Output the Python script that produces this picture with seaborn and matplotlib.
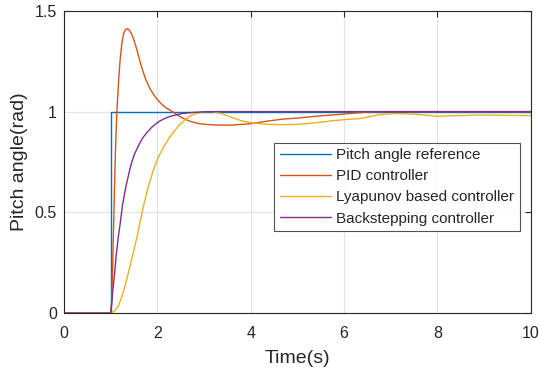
import matplotlib
matplotlib.use("Agg")
import matplotlib.pyplot as plt
import seaborn as sns
import pandas as pd

# ---- data ----
ref_t = [0, 1, 1, 10]
ref_y = [0, 0, 1, 1]

pid_t = [0, 1.0, 1.02, 1.04, 1.06, 1.08, 1.10, 1.12, 1.14, 1.17, 1.20, 1.24, 1.28, 1.32, 1.36,
         1.40, 1.45, 1.50, 1.57, 1.65, 1.75, 1.85, 1.92, 2.0, 2.1, 2.18, 2.3, 2.4, 2.54, 2.7, 2.9,
         3.1, 3.3, 3.6, 4.0, 4.33, 4.7, 5.0, 5.4, 5.8, 6.1, 6.35, 6.6, 7.0, 8.0, 10.0]
pid_y = [0, 0, 0.05, 0.2, 0.4, 0.6, 0.78, 0.92, 1.03, 1.15, 1.25, 1.34, 1.39, 1.408, 1.412,
         1.405, 1.385, 1.355, 1.30, 1.23, 1.16, 1.11, 1.085, 1.06, 1.035, 1.02, 1.003, 0.988, 0.968, 0.952, 0.94,
         0.935, 0.933, 0.933, 0.94, 0.952, 0.963, 0.968, 0.977, 0.984, 0.99, 0.995, 0.999, 1.0, 1.0, 1.0]

lya_t = [0, 1.0, 1.05, 1.10, 1.167, 1.23, 1.29, 1.384, 1.47, 1.558, 1.63, 1.71, 1.797, 1.906, 1.97,
         2.05, 2.15, 2.254, 2.37, 2.486, 2.6, 2.70, 2.85, 3.0, 3.15, 3.3, 3.45, 3.61, 3.8, 4.0,
         4.33, 4.68, 5.04, 5.4, 5.76, 6.0, 6.33, 6.55, 6.76, 7.0, 7.19, 7.4, 7.62, 8.0, 8.4,
         8.9, 9.33, 10.0]
lya_y = [0, 0, 0.005, 0.015, 0.037, 0.075, 0.12, 0.203, 0.287, 0.37, 0.453, 0.537, 0.62, 0.703, 0.745,
         0.787, 0.83, 0.87, 0.905, 0.937, 0.96, 0.978, 0.992, 0.999, 1.0, 0.995, 0.984, 0.97, 0.955, 0.945,
         0.937, 0.935, 0.937, 0.945, 0.955, 0.96, 0.965, 0.975, 0.985, 0.989, 0.99, 0.988, 0.985, 0.977, 0.98,
         0.983, 0.982, 0.98]

bs_t = [0, 1.0, 1.02, 1.05, 1.087, 1.12, 1.16, 1.21, 1.254, 1.32, 1.40, 1.45, 1.507, 1.6, 1.688,
        1.78, 1.87, 1.96, 2.05, 2.17, 2.30, 2.52, 2.7, 3.0, 3.3, 10.0]
bs_y = [0, 0, 0.04, 0.12, 0.203, 0.29, 0.37, 0.455, 0.537, 0.62, 0.703, 0.748, 0.787, 0.833, 0.87,
        0.897, 0.92, 0.938, 0.953, 0.967, 0.978, 0.99, 0.995, 0.999, 1.0, 1.0]

names = ["Pitch angle reference", "PID controller", "Lyapunov based controller", "Backstepping controller"]
colors = ["#0072BD", "#D95319", "#EDB120", "#7E2F8E"]

x_ticks = [0, 2, 4, 6, 8, 10]
y_ticks = [0, 0.5, 1, 1.5]
y_tick_labels = ["0", "0.5", "1", "1.5"]

frames = []
for nm, t, y in zip(names, [ref_t, pid_t, lya_t, bs_t], [ref_y, pid_y, lya_y, bs_y]):
    frames.append(pd.DataFrame({"t": t, "y": y, "series": nm}))
df = pd.concat(frames, ignore_index=True)

sns.set_style("white")
plt.rcParams["font.family"] = ["Liberation Sans", "DejaVu Sans"]

fig = plt.figure(figsize=(5.39, 3.71), dpi=100)
ax = fig.add_axes([0.1187, 0.1563, 0.866, 0.8143])

sns.lineplot(data=df, x="t", y="y", hue="series", hue_order=names, palette=colors,
             estimator=None, sort=False, units="series", linewidth=1.0, ax=ax, legend=True)

ax.set_xlim(0, 10)
ax.set_ylim(0, 1.5)
ax.set_xticks(x_ticks)
ax.set_yticks(y_ticks)
ax.set_yticklabels(y_tick_labels)
ax.grid(True, color="#e3e3e3", linewidth=0.8)
ax.set_axisbelow(True)
for s in ax.spines.values():
    s.set_visible(True)
    s.set_color("#262626")
    s.set_linewidth(0.8)
ax.tick_params(direction="in", length=4, width=0.8, colors="#262626", labelsize=11.5,
               top=True, right=True, labeltop=False, labelright=False, pad=5)
ax.tick_params(axis="x", pad=9)
ax.set_xlabel("Time(s)", fontsize=14, color="#262626", labelpad=7)
ax.set_ylabel("Pitch angle(rad)", fontsize=14, color="#262626", labelpad=5)

handles, labels = ax.get_legend_handles_labels()
leg = ax.legend(handles, labels, loc="upper right", bbox_to_anchor=(0.976, 0.564),
                fontsize=11, frameon=True, fancybox=False, edgecolor="#262626",
                handlelength=3.35, handletextpad=0.35, labelspacing=0.47,
                borderpad=0.35, borderaxespad=0)
leg.get_frame().set_linewidth(0.8)
for txt in leg.get_texts():
    txt.set_color("#262626")

fig.savefig("out.png", dpi=100)
